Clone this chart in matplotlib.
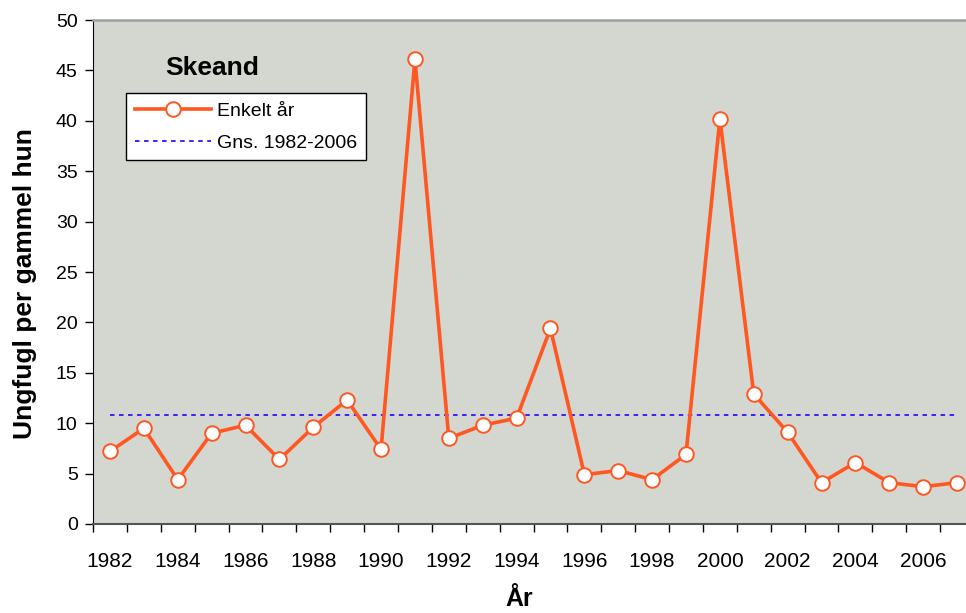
import matplotlib
matplotlib.use("Agg")
import matplotlib.pyplot as plt
import numpy as np

# Data
years = list(range(1982, 2008))
ungfugl = [7.2, 9.5, 4.4, 9.0, 9.8, 6.4, 9.6, 12.3, 7.4, 46.1,
           8.5, 9.8, 10.5, 19.4, 4.9, 5.3, 4.4, 6.9, 40.2, 12.9,
           9.1, 4.1, 6.1, 4.1, 3.7, 4.1]
gns_value = 10.8
label_years = list(range(1982, 2007, 2))

plt.rcParams["font.family"] = ["Liberation Sans", "DejaVu Sans"]

fig = plt.figure(figsize=(9.66, 6.13), dpi=100)
ax = fig.add_axes([0.0963, 0.1452, 0.912, 0.822])
ax.set_facecolor("#D4D6D0")

ax.plot(years, [gns_value] * len(years), linestyle=(0, (2.5, 2.5)), color="#3311FF",
        linewidth=1.3, label="Gns. 1982-2006", zorder=2)
ax.plot(years, ungfugl, color="#FF5722", linewidth=2.6, marker="o", markersize=10.5,
        markerfacecolor="white", markeredgecolor="#FF5722", markeredgewidth=1.4,
        label="Enkelt år", zorder=3)

ax.set_xlim(1981.5, 2007.5)
ax.set_ylim(0, 50)
ax.set_yticks(np.arange(0, 51, 5))
ax.set_xticks(label_years)
ax.set_xticks(np.arange(1981.5, 2008, 1), minor=True)
ax.tick_params(axis="x", which="major", length=0, pad=20, labelsize=15)
ax.tick_params(axis="x", which="minor", length=6, width=1)
ax.tick_params(axis="y", length=6, width=1, labelsize=14, pad=5)

ax.spines["top"].set_color("#a0a0a0")
ax.spines["top"].set_linewidth(1.8)
ax.spines["right"].set_color("#a0a0a0")
ax.spines["left"].set_color("black")
ax.spines["bottom"].set_color("#555555")
ax.spines["bottom"].set_linewidth(1.5)

ax.set_ylabel("Ungfugl per gammel hun", fontsize=19, fontweight="bold")
ax.yaxis.set_label_coords(-0.0636, 0.478)
ax.set_xlabel("År", fontsize=18, fontweight="bold")
ax.xaxis.set_label_coords(0.4833, -0.125)
ax.xaxis.label.set_va("top")

ax.text(0.082, 0.905, "Skeand", transform=ax.transAxes, fontsize=19,
        fontweight="bold", va="center", ha="left")

handles, labels = ax.get_legend_handles_labels()
leg = ax.legend(handles[::-1], labels[::-1], loc="upper left",
                bbox_to_anchor=(0.0375, 0.855), borderaxespad=0, fontsize=14,
                fancybox=False, framealpha=1, edgecolor="black",
                handlelength=3.9, handletextpad=0.35, borderpad=0.45,
                labelspacing=0.75)
leg.get_frame().set_linewidth(1)

fig.savefig("out.png", dpi=100)
